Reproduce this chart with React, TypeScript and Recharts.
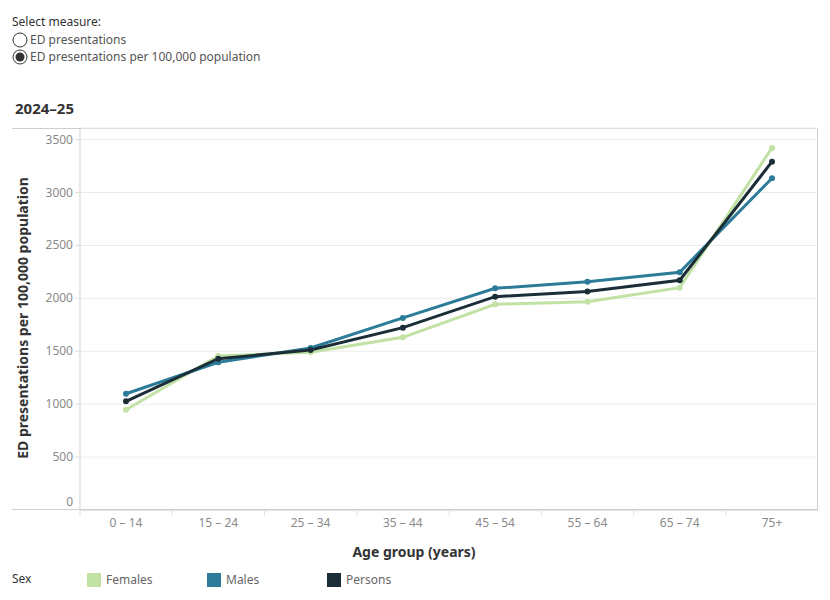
import React from "react"
import { CartesianGrid, Line, LineChart, XAxis, YAxis } from "recharts"

const ageGroups = ["0 – 14", "15 – 24", "25 – 34", "35 – 44", "45 – 54", "55 – 64", "65 – 74", "75+"]
const females = [948, 1455, 1490, 1632, 1944, 1969, 2101, 3422]
const males = [1099, 1396, 1531, 1815, 2095, 2158, 2247, 3135]
const persons = [1027, 1430, 1512, 1723, 2016, 2064, 2171, 3292]
const yTicks = [0, 500, 1000, 1500, 2000, 2500, 3000, 3500]
const measures = ["ED presentations", "ED presentations per 100,000 population"]

const series = [
  { key: "females", name: "Females", color: "#c2e1a5" },
  { key: "males", name: "Males", color: "#2c7c99" },
  { key: "persons", name: "Persons", color: "#1b2e38" },
]

const data = ageGroups.map((age, i) => ({
  age,
  females: females[i],
  males: males[i],
  persons: persons[i],
}))

const font = "'Noto Sans', sans-serif"
const halfBand = 46

function AgeTick(props: any) {
  const { x, y, payload } = props
  return (
    <g>
      <line x1={x - halfBand} x2={x - halfBand} y1={y - 8} y2={y - 2} stroke="#e2e2e2" />
      <text x={x} y={y + 9} textAnchor="middle" fill="#8a8a8a" fontSize={12} fontFamily={font}>
        {payload.value}
      </text>
    </g>
  )
}

function ValueTick(props: any) {
  const { x, y, payload } = props
  const zero = payload.value === 0
  return (
    <g>
      {!zero && <line x1={x + 2} x2={x + 7} y1={y} y2={y} stroke="#e0e0e0" />}
      <text
        x={x}
        y={zero ? y - 8 : y}
        dy={4}
        textAnchor="end"
        fill="#8a8a8a"
        fontSize={12}
        fontFamily={font}
      >
        {payload.value}
      </text>
    </g>
  )
}

function Radio({ checked }: { checked: boolean }) {
  return (
    <svg width={16} height={16} style={{ display: "block" }}>
      <circle cx={8} cy={8} r={7} fill="#fff" stroke="#333" strokeWidth={1} />
      {checked && <circle cx={8} cy={8} r={4.5} fill="#333" />}
    </svg>
  )
}

export default function App() {
  return (
    <div style={{ position: "relative", width: 830, height: 600, background: "#fff", fontFamily: font }}>
      <style>{"body{margin:0}"}</style>
      <div style={{ position: "absolute", left: 12, top: 13, fontSize: 12, color: "#333" }}>Select measure:</div>
      {measures.map((m, i) => (
        <div
          key={m}
          style={{ position: "absolute", left: 12, top: 31 + i * 17, display: "flex", alignItems: "center", gap: 2 }}
        >
          <Radio checked={i === 1} />
          <span style={{ fontSize: 12, color: "#555" }}>{m}</span>
        </div>
      ))}
      <div style={{ position: "absolute", left: 15, top: 98, fontSize: 15, fontWeight: 700, color: "#333" }}>
        2024–25
      </div>
      <div
        style={{
          position: "absolute",
          left: 12,
          top: 128,
          width: 806,
          height: 382,
          borderTop: "1px solid #cfcfcf",
          borderRight: "1px solid #cfcfcf",
          boxSizing: "border-box",
        }}
      />
      <div style={{ position: "absolute", left: 0, top: 0 }}>
        <LineChart width={830} height={600} data={data} margin={{ top: 128, right: 12, bottom: 60, left: 12 }}>
          <CartesianGrid horizontal vertical={false} stroke="#ececec" />
          <XAxis
            dataKey="age"
            padding={{ left: halfBand, right: halfBand }}
            axisLine={{ stroke: "#cfcfcf" }}
            tickLine={false}
            tick={<AgeTick />}
            height={30}
            interval={0}
          />
          <YAxis
            width={68}
            domain={[0, 3610]}
            ticks={yTicks}
            axisLine={{ stroke: "#cfcfcf" }}
            tickLine={false}
            tickSize={5}
            tickMargin={2}
            tick={<ValueTick />}
          />
          {series.map((s) => (
            <Line
              key={s.key}
              dataKey={s.key}
              name={s.name}
              stroke={s.color}
              strokeWidth={3}
              dot={{ r: 3, fill: s.color, stroke: s.color, strokeWidth: 0 }}
              isAnimationActive={false}
            />
          ))}
        </LineChart>
      </div>
      <div
        style={{
          position: "absolute",
          left: 12,
          top: 128,
          width: 806,
          borderBottom: "1px solid #cfcfcf",
          height: 382,
          boxSizing: "border-box",
          pointerEvents: "none",
        }}
      />
      <div
        style={{
          position: "absolute",
          left: 22,
          top: 318,
          transform: "translate(-50%, -50%) rotate(-90deg)",
          whiteSpace: "nowrap",
          fontSize: 14,
          fontWeight: 700,
          color: "#333",
        }}
      >
        ED presentations per 100,000 population
      </div>
      <div
        style={{
          position: "absolute",
          left: 414,
          top: 551,
          transform: "translate(-50%, -50%)",
          whiteSpace: "nowrap",
          fontSize: 14,
          fontWeight: 700,
          color: "#333",
        }}
      >
        Age group (years)
      </div>
      <div style={{ position: "absolute", left: 12, top: 570, fontSize: 12, color: "#333" }}>Sex</div>
      {series.map((s, i) => (
        <div
          key={s.key}
          style={{ position: "absolute", left: 87 + i * 120, top: 571, display: "flex", alignItems: "center", gap: 5 }}
        >
          <div style={{ width: 14, height: 14, background: s.color }} />
          <span style={{ fontSize: 12, color: "#666" }}>{s.name}</span>
        </div>
      ))}
    </div>
  )
}
